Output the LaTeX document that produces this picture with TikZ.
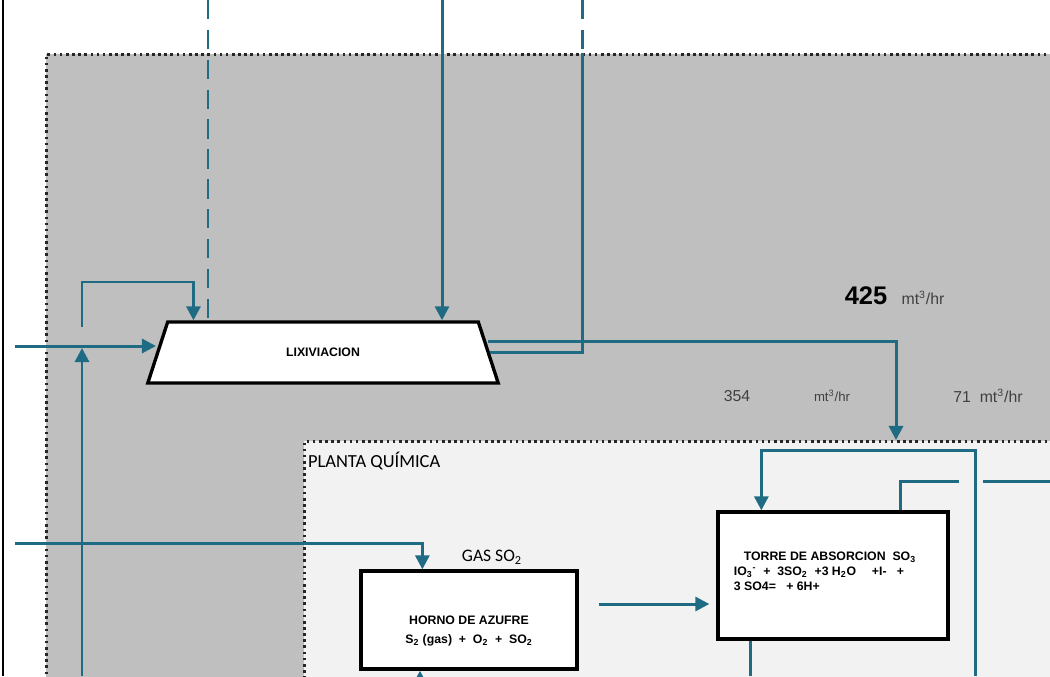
\documentclass[tikz,border=0pt]{standalone}
\usepackage{fontspec}
\setmainfont{Liberation Sans}
\newfontfamily\calibri{Carlito}
\usetikzlibrary{shapes.geometric, arrows.meta, positioning, calc}
\definecolor{flujo}{HTML}{1F6B83}
\definecolor{zonagris}{HTML}{BFBFBF}
\definecolor{zonaclara}{HTML}{F2F2F2}

\begin{document}
\begin{tikzpicture}[
    x=0.02cm, y=-0.02cm,
    zona/.style={rectangle, draw=black!85, dotted, line width=1.5pt, anchor=north west, inner sep=0pt},
    equipo/.style={draw, line width=1.9pt, fill=white, align=center},
    rotulo/.style={font=\fontsize{7}{11}\selectfont\bfseries, align=center},
    pipe/.style={draw=flujo, line width=1.7pt},
    dpipe/.style={pipe, dash pattern=on 11pt off 6pt},
    flow/.style={pipe, -{Triangle[length=8pt,width=8pt]}},
    caudal/.style={font=\fontsize{9}{11}\selectfont, text=black!75},
    unidad/.style={font=\fontsize{7.5}{9}\selectfont, text=black!75},
  ]
  \useasboundingbox (0,0) rectangle (1050,676);
  \draw[line width=1pt] (3,0) -- (3,676);
  % zonas
  \node[zona, fill=zonagris, minimum width=20.3cm, minimum height=12.74cm] (zona) at (45,53) {};
  \node[zona, fill=zonaclara, minimum width=15.14cm, minimum height=5cm] (planta) at (303,440) {};
  \node[anchor=north west, inner sep=1pt, font=\calibri\fontsize{10.5}{12}\selectfont] (plantatxt)
       at ($(planta.north west)+(3,10)$) {PLANTA QUÍMICA};
  % equipos
  \node[equipo, trapezium, trapezium angle=75, trapezium stretches=true,
        minimum width=7.02cm, minimum height=1.22cm, rotulo] (lix) at (323,352.5) {LIXIVIACION};
  \node[equipo, minimum width=4.32cm, minimum height=1.96cm] (horno) at (469,620) {};
  \node[rotulo] (hornotxt) at ($(horno.center)+(0,11)$)
       {HORNO DE AZUFRE\\S\textsubscript{2} (gas) \ + \ O\textsubscript{2} \ + \ SO\textsubscript{2}};
  \node[equipo, minimum width=4.6cm, minimum height=2.54cm] (torre) at (833,575.5) {};
  \node[rotulo, align=left, font=\fontsize{7}{8.5}\selectfont\bfseries] (torretxt)
       at ($(torre.center)+(-8,-4)$)
       {\hspace*{0.8em}TORRE DE ABSORCION \ SO\textsubscript{3}\\
        IO\textsubscript{3}\textsuperscript{-} \ + \ 3SO\textsubscript{2} \ +3 H\textsubscript{2}O \quad +I- \ \ +\\
        3 SO4= \ \ + 6H+};
  \node[font=\calibri\fontsize{10}{12}\selectfont] (gas) at (492,557) {GAS SO\textsubscript{2}};
  % caudales
  \node[font=\fontsize{14.5}{16}\selectfont\bfseries] (q425) at (866,296) {425};
  \node[unidad, anchor=base west, font=\fontsize{9}{11}\selectfont] (u425) at ($(q425.base east)+(2,0)$) {mt\textsuperscript{3}/hr};
  \node[caudal] (q354) at (737,396) {354};
  \node[unidad] (u354) at (832,396) {mt\textsuperscript{3}/hr};
  \node[caudal] (q71) at (988,396) {71 \ mt\textsuperscript{3}/hr};
  % puntos libres
  \coordinate (in1) at (15,346);
  \coordinate (in2) at (15,543);
  \coordinate (sub1) at (82,676);
  \coordinate (loop) at (82,327);
  \coordinate (top1) at (208,0);
  \coordinate (top2) at (442,0);
  \coordinate (top3) at (582,0);
  \coordinate (t425) at (896,440);
  \coordinate (sub2) at (420,676);
  \coordinate (sub3) at (750,676);
  \coordinate (sub4) at (975,676);
  \coordinate (salto1) at (959,481);
  \coordinate (salto2) at (983,481);
  \coordinate (der1) at (1050,481);
  \coordinate (h1) at ($(horno.east)+(20,-16)$);
  % lineas
  \draw[flow] (in1) -- (in1 -| lix.west);
  \draw[flow] (sub1) -- ($(sub1 |- in1)+(0,2)$);
  \draw[flow] (loop) -- ++(0,-45) -| ($(lix.top left corner)+(27,0)$);
  \draw[dpipe] (top1) -- (top1 |- lix.north);
  \draw[flow] (top2) -- (top2 |- lix.north);
  \draw[dpipe] (top3) -- (top3 |- zona.north);
  \draw[pipe] (top3 |- zona.north) |- (lix.east);
  \draw[flow] ($(lix.east)+(-2,-11)$) -| (t425);
  \draw[flow] (in2) -| ($(horno.north west)+(63,0)$);
  \draw[flow] (sub2) -- (sub2 |- horno.south);
  \draw[flow] (h1) -- ($(h1 -| torre.west)+(-7,0)$);
  \draw[flow] (sub4) -- ++(0,-226) -| ($(torre.north west)+(45,0)$);
  \draw[pipe] ($(torre.north west)+(184,0)$) |- (salto1);
  \draw[pipe] (salto2) -- (der1);
  \draw[pipe] (sub3 |- torre.south) -- (sub3);
\end{tikzpicture}
\end{document}
